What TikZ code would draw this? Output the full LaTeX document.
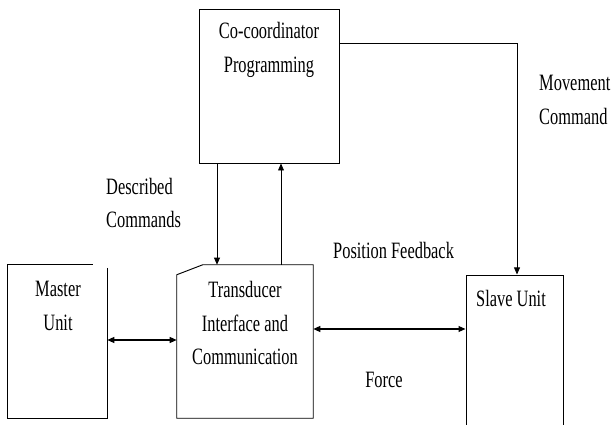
\documentclass[tikz,border=0pt]{standalone}
\usepackage{fontspec}
\setmainfont{Liberation Serif}[FakeStretch=0.7]
\usetikzlibrary{arrows.meta,positioning,calc}

\begin{document}
\begin{tikzpicture}[
  x=0.03cm,y=0.03cm,
  font=\fontsize{20}{29}\selectfont,
  >={Triangle[length=6pt,width=5pt]},
  block/.style={inner sep=0pt,minimum height=4.59cm},
  lbl/.style={align=center,inner sep=0pt},
  link/.style={line width=0.7pt},
  duplex/.style={line width=1.2pt,<->}
]
\useasboundingbox (0,0) rectangle (611,425);

% Blocks of the teleoperation scheme.
\node[block,draw,line width=0.8pt,minimum width=4.2cm,minimum height=4.62cm] (coord) at (269,339) {};
\node[block,minimum width=2.97cm] (master) at (57.5,83.5) {};
\node[block,minimum width=4.08cm] (trans) at (245,83.5) {};
\node[block,draw,line width=0.8pt,minimum width=2.91cm,minimum height=5.1cm] (slave) at (514.5,65) {};

% Outlines as printed: gap at the master corner, slanted transducer corner.
\draw[line width=0.8pt] ([yshift=-0.09cm]master.north east) -- (master.south east) -- (master.south west)
  -- (master.north west) -- ([xshift=-0.42cm]master.north east);
\draw[line width=0.8pt] ([yshift=-0.3cm]trans.north west) -- ([xshift=0.78cm]trans.north west)
  -- (trans.north east) -- (trans.south east) -- (trans.south west) -- cycle;

% Block texts.
\node[lbl] (coordtxt) at (269,375) {Co-coordinator\\Programming};
\node[lbl] (mastertxt) at (58,119) {Master\\Unit};
\node[lbl] (transtxt) at (245,102) {Transducer\\Interface and\\Communication};
\node[lbl] (slavetxt) at (511,127) {Slave Unit};

% Signal labels.
\node[lbl,align=left,anchor=west] (described) at (106,222) {Described\\Commands};
\node[lbl,anchor=west] (posfb) at (333,175) {Position Feedback};
\node[lbl] (force) at (384,45) {Force};
\node[lbl,align=left,anchor=west] (movement) at (539,325) {Movement\\Command};

% Connectors.
\draw[link,->] ([xshift=-1.56cm]coord.south) -- ([xshift=-1.56cm]coord.south |- trans.north);
\draw[link,->] ([xshift=1.08cm]trans.north) -- ([xshift=1.08cm]trans.north |- coord.south);
\draw[link,->] ([yshift=1.29cm]coord.east) -| ([xshift=0.075cm]slave.north);
\draw[duplex] ([yshift=0.045cm]master.east) -- ([yshift=0.045cm]trans.west);
\draw[duplex] ([yshift=0.375cm]trans.east) -- ([yshift=0.375cm]trans.east -| slave.west);
\end{tikzpicture}
\end{document}
